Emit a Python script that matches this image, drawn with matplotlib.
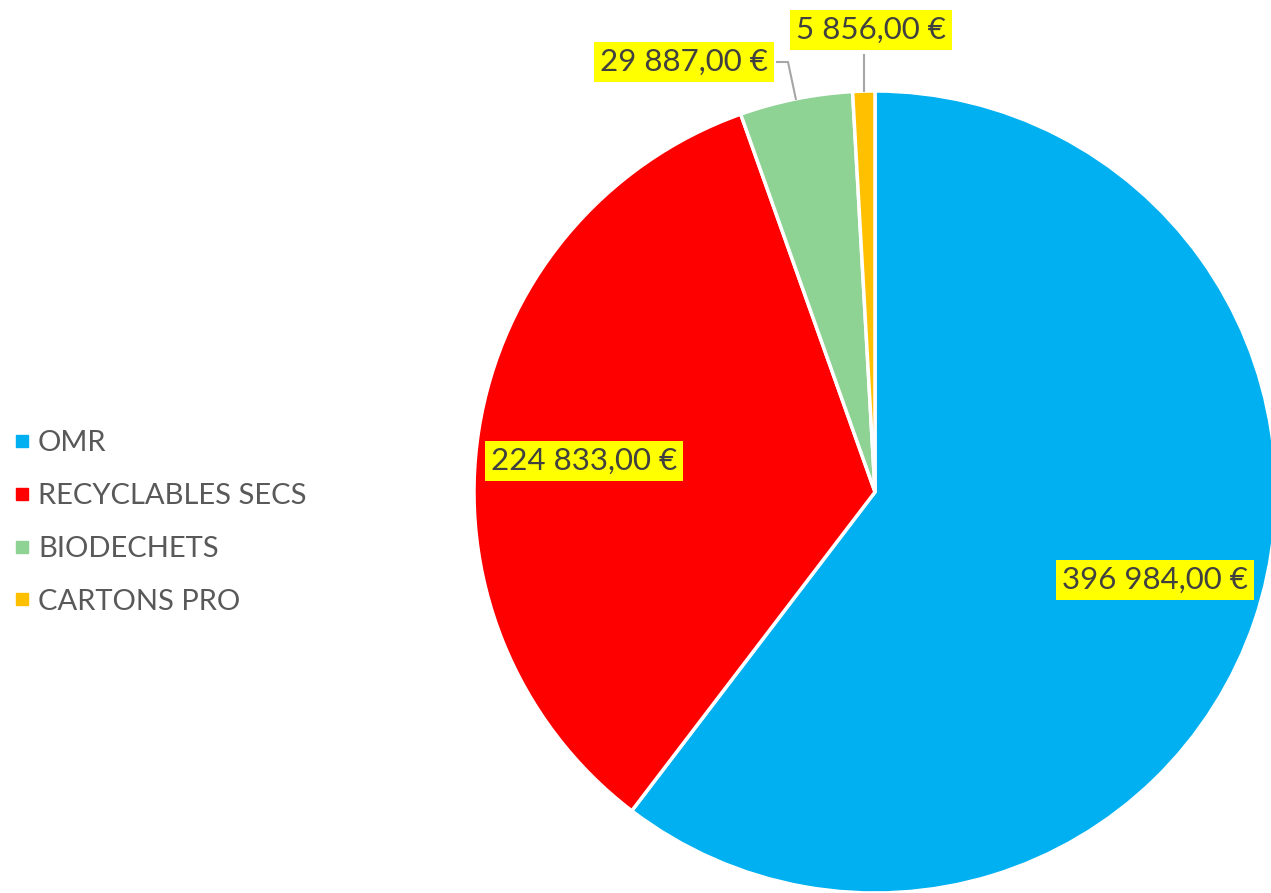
import numpy as np
import matplotlib.pyplot as plt
from matplotlib.lines import Line2D

plt.rcParams['font.family'] = ['Lato', 'DejaVu Sans']

categories = ['OMR', 'RECYCLABLES SECS', 'BIODECHETS', 'CARTONS PRO']
values = [396984.00, 224833.00, 29887.00, 5856.00]
labels = ['396 984,00 €', '224 833,00 €', '29 887,00 €', '5 856,00 €']
colors = ['#00B0F0', '#FF0000', '#8ED294', '#FFC000']

W, H = 1271, 893
cx, cy, R = 875, 401, 401

fig = plt.figure(figsize=(W / 100, H / 100), dpi=100)
ax = fig.add_axes([0, 0, 1, 1])

wedges, _ = ax.pie(values, colors=colors, startangle=90, counterclock=False,
                   center=(cx, cy), radius=R,
                   wedgeprops=dict(edgecolor='white', linewidth=2.5))
ax.set_xlim(0, W)
ax.set_ylim(0, H)
ax.set_aspect('equal')
ax.axis('off')

box = dict(boxstyle='square,pad=0.2', facecolor='#FFFF00', edgecolor='none')
txt = dict(fontsize=22.5, color='#404040', ha='center', va='center', bbox=box)

# labels inside the two big slices (position as in the original layout)
ax.text(1155, H - 580, labels[0], **txt)
ax.text(584, H - 461, labels[1], **txt)

# outside labels with leader lines for the small slices
ang_b = np.deg2rad((wedges[2].theta1 + wedges[2].theta2) / 2)
ex, ey = cx + R * np.cos(ang_b), cy + R * np.sin(ang_b)
ax.text(684, H - 62, labels[2], **txt)
ax.plot([777, 788, ex], [H - 62, H - 62, ey], color='#A6A6A6', lw=1.5)

ang_c = np.deg2rad((wedges[3].theta1 + wedges[3].theta2) / 2)
fx, fy = cx + R * np.cos(ang_c), cy + R * np.sin(ang_c)
ax.text(871, H - 30, labels[3], **txt)
ax.plot([fx, fx], [H - 55, fy], color='#A6A6A6', lw=1.5)

handles = [Line2D([], [], marker='s', linestyle='none', markersize=8.5,
                  markerfacecolor=c, markeredgecolor=c) for c in colors]
ax.legend(handles, categories, loc='center left', bbox_to_anchor=(0.0, 0.415),
          frameon=False, fontsize=21, labelcolor='#595959',
          handlelength=0.7, handletextpad=0.2, labelspacing=0.92,
          borderaxespad=0.0, borderpad=0.4)

fig.savefig('out.png', dpi=100)
